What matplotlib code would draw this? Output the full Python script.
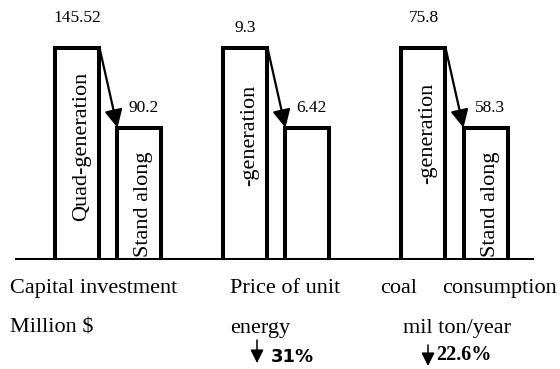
import matplotlib
matplotlib.use("Agg")
import matplotlib.pyplot as plt
import numpy as np

# ---- data ----
groups = ["Capital investment", "Price of unit energy", "coal consumption"]
quad_values = [145.52, 9.3, 75.8]
stand_values = [90.2, 6.42, 58.3]
# schematic drawn heights (relative)
quad_heights = [1.0, 1.0, 1.0]
stand_heights = [0.623, 0.623, 0.623]
quad_bar_text = ["Quad-generation", "-generation", "-generation"]
stand_bar_text = ["Stand along", "", "Stand along"]
row1_labels = ["Capital investment", "Price of unit", "coal", "consumption"]
row2_labels = ["Million $", "energy", "mil ton/year"]
reductions = ["31%", "22.6%"]

SERIF = ["Liberation Serif", "DejaVu Serif"]

W, H = 560, 369
fig = plt.figure(figsize=(W / 100, H / 100), dpi=100)
base_px = 109  # baseline from bottom
ax = fig.add_axes([0, base_px / H, 1, 1 - base_px / H])
ax.set_axis_off()

px_per_unit = 173.0
g0 = 108.5
ax.set_xlim(-g0 / px_per_unit, (W - g0) / px_per_unit)
ax.set_ylim(0, (H - base_px) / 212.3)

group_pos = np.array([0.0, 0.971, 2.0])
off = 31.0 / px_per_unit
bw = 44 / px_per_unit
xq = group_pos - off
xs = group_pos + off

lw = 2.9
ax.bar(xq, quad_heights, width=bw, facecolor="white", edgecolor="black",
       linewidth=lw, zorder=2)
ax.bar(xs, stand_heights, width=bw, facecolor="white", edgecolor="black",
       linewidth=lw, zorder=2)

# baseline
ax.axhline(0, xmin=17 / W, xmax=532 / W, color="black", linewidth=2.9, zorder=3)

# arrows from tall bar to short bar
for i in range(len(groups)):
    ax.annotate("", xy=(xs[i] - bw / 2, stand_heights[i]),
                xytext=(xq[i] + bw / 2, quad_heights[i]),
                arrowprops=dict(arrowstyle="-|>,head_length=0.6,head_width=0.3",
                                mutation_scale=18, color="black", lw=1.6,
                                shrinkA=0, shrinkB=0), zorder=4)

# value labels
quad_label_off = [18.5, 11.5, 18.5]
for i in range(len(groups)):
    ax.annotate(f"{quad_values[i]:g}", xy=(xq[i], quad_heights[i]),
                xytext=(0, quad_label_off[i]), textcoords="offset points",
                ha="center", va="baseline", fontsize=12.5, family=SERIF)
    ax.annotate(f"{stand_values[i]:g}", xy=(xs[i], stand_heights[i]),
                xytext=(3, 11.5), textcoords="offset points",
                ha="center", va="baseline", fontsize=12.5, family=SERIF)

# rotated text in bars
tx = 4.5 / px_per_unit
quad_text_y = [0.535, 0.585, 0.595]
for i in range(len(groups)):
    if quad_bar_text[i]:
        ax.text(xq[i] + tx, quad_text_y[i], quad_bar_text[i], rotation=90,
                ha="center", va="center", fontsize=16, family=SERIF, zorder=5)
    if stand_bar_text[i]:
        ax.text(xs[i] + tx, 0.012, stand_bar_text[i], rotation=90,
                ha="center", va="bottom", fontsize=16, family=SERIF, zorder=5)

# bottom texts
def fx(px):
    return px / W

def fy(py_from_top):
    return (H - py_from_top) / H

row1_x = [10, 230, 380, 442]
for lab, xp in zip(row1_labels, row1_x):
    fig.text(fx(xp), fy(293), lab, ha="left", va="baseline", fontsize=16,
             family=SERIF)
row2_x = [10, 230, 403]
for lab, xp in zip(row2_labels, row2_x):
    fig.text(fx(xp), fy(333), lab, ha="left", va="baseline", fontsize=16,
             family=SERIF)

# reduction arrows and percentages
arrow_x = [257, 428]
arrow_top = [340, 345]
arrow_bot = [363, 366]
for xp, t, b in zip(arrow_x, arrow_top, arrow_bot):
    fig.add_artist(matplotlib.patches.FancyArrowPatch(
        (xp, H - t), (xp, H - b), transform=None,
        arrowstyle="-|>,head_length=0.5,head_width=0.25", mutation_scale=16,
        color="black", lw=1.1, shrinkA=0, shrinkB=0))

fig.text(fx(271), fy(357), reductions[0], ha="left", va="center",
         fontsize=13, fontweight="bold", family=["DejaVu Sans"])
fig.text(fx(436), fy(355), reductions[1], ha="left", va="center",
         fontsize=14.5, fontweight="bold", family=SERIF)

fig.savefig("out.png", dpi=100)
